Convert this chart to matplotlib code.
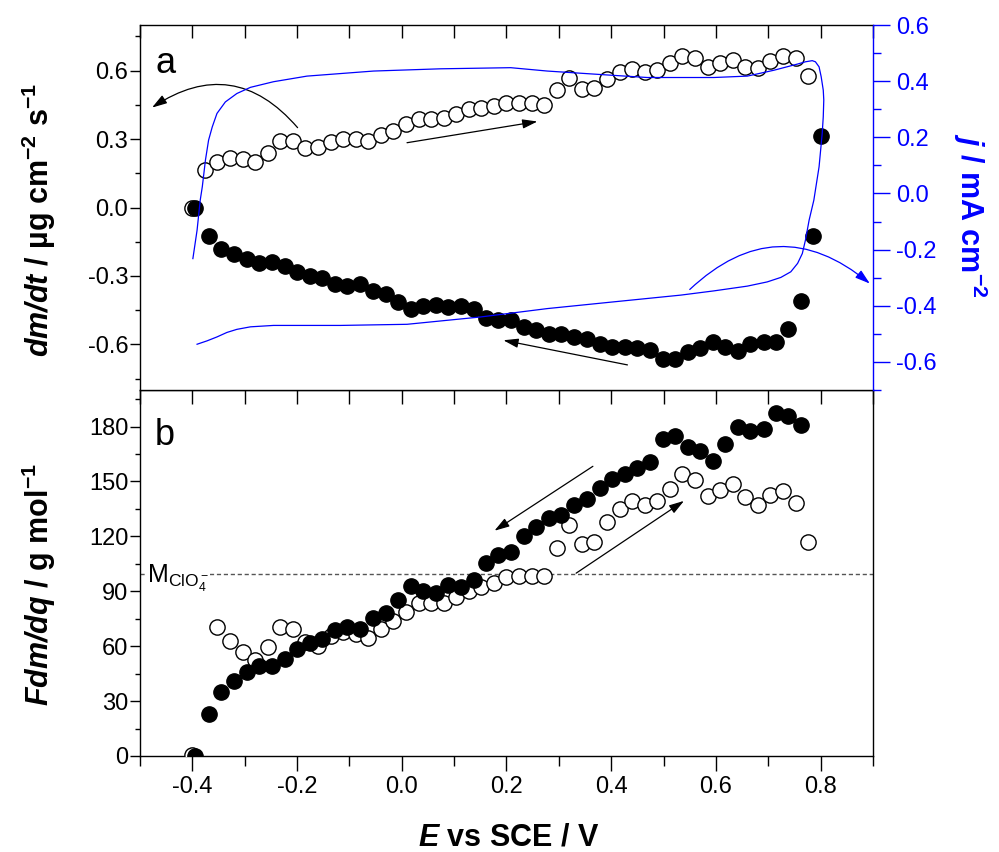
import matplotlib
matplotlib.use("Agg")
import matplotlib.pyplot as plt
from matplotlib.ticker import MultipleLocator, FormatStrFormatter

plt.rcParams['font.family'] = ['Liberation Sans', 'DejaVu Sans']
plt.rcParams['mathtext.fontset'] = 'custom'
plt.rcParams['mathtext.rm'] = 'Liberation Sans:italic:bold'
plt.rcParams['mathtext.it'] = 'Liberation Sans:italic:bold'
plt.rcParams['mathtext.bf'] = 'Liberation Sans:bold'
plt.rcParams['axes.unicode_minus'] = False

# ---------------- data ----------------
# panel a, anodic scan (open circles): dm/dt
E_open_a = [-0.400, -0.376, -0.352, -0.328, -0.304, -0.280, -0.256, -0.232, -0.208, -0.184,
            -0.160, -0.136, -0.112, -0.088, -0.064, -0.040, -0.016, 0.008, 0.032, 0.056,
            0.080, 0.104, 0.128, 0.152, 0.176, 0.200, 0.224, 0.248, 0.272, 0.296,
            0.320, 0.344, 0.368, 0.392, 0.416, 0.440, 0.464, 0.488, 0.512, 0.536,
            0.560, 0.584, 0.608, 0.632, 0.656, 0.680, 0.704, 0.728, 0.752, 0.776]
dmdt_open = [0.000, 0.163, 0.198, 0.215, 0.211, 0.198, 0.237, 0.290, 0.290, 0.259,
             0.264, 0.286, 0.299, 0.299, 0.290, 0.316, 0.334, 0.365, 0.387, 0.387,
             0.391, 0.409, 0.431, 0.435, 0.444, 0.457, 0.456, 0.456, 0.448, 0.516,
             0.568, 0.519, 0.523, 0.563, 0.595, 0.607, 0.596, 0.604, 0.632, 0.665,
             0.654, 0.614, 0.632, 0.646, 0.617, 0.610, 0.642, 0.665, 0.655, 0.575]

# panel a, cathodic scan (filled circles): dm/dt
E_fill_a = [-0.395, -0.368, -0.345, -0.320, -0.296, -0.272, -0.248, -0.224, -0.201, -0.176,
            -0.152, -0.127, -0.104, -0.080, -0.055, -0.031, -0.007, 0.017, 0.041, 0.065,
            0.089, 0.114, 0.137, 0.161, 0.184, 0.208, 0.233, 0.257, 0.281, 0.305,
            0.329, 0.354, 0.378, 0.402, 0.426, 0.450, 0.474, 0.498, 0.522, 0.546,
            0.570, 0.594, 0.618, 0.642, 0.666, 0.691, 0.714, 0.738, 0.762, 0.785, 0.800]
dmdt_fill = [0.000, -0.123, -0.182, -0.202, -0.225, -0.243, -0.239, -0.258, -0.284, -0.299,
             -0.311, -0.334, -0.343, -0.337, -0.368, -0.380, -0.415, -0.445, -0.431, -0.428,
             -0.438, -0.431, -0.445, -0.485, -0.492, -0.495, -0.524, -0.539, -0.555, -0.554,
             -0.568, -0.577, -0.599, -0.610, -0.612, -0.617, -0.624, -0.665, -0.665, -0.633,
             -0.614, -0.588, -0.610, -0.627, -0.599, -0.588, -0.588, -0.532, -0.412, -0.123, 0.313]

# panel a, cyclic voltammogram (blue, right axis)
E_cv = [-0.399, -0.391, -0.385, -0.381, -0.375, -0.369, -0.362, -0.353, -0.337, -0.315,
        -0.289, -0.245, -0.181, -0.054, 0.074, 0.208, 0.278, 0.393, 0.469, 0.596,
        0.660, 0.711, 0.756, 0.771, 0.784, 0.790, 0.797, 0.801, 0.805, 0.806,
        0.805, 0.803, 0.797, 0.787, 0.778, 0.771, 0.765, 0.756, 0.743, 0.724,
        0.698, 0.660, 0.596, 0.533, 0.405, 0.278, 0.150, 0.010, -0.117, -0.245,
        -0.289, -0.315, -0.334, -0.353, -0.372, -0.391]
j_cv = [-0.232, -0.131, -0.024, 0.024, 0.119, 0.190, 0.237, 0.285, 0.326, 0.356,
        0.378, 0.398, 0.418, 0.436, 0.444, 0.448, 0.436, 0.422, 0.413, 0.413,
        0.418, 0.439, 0.461, 0.469, 0.473, 0.469, 0.451, 0.416, 0.368, 0.333,
        0.273, 0.214, 0.095, -0.024, -0.095, -0.166, -0.214, -0.249, -0.279, -0.299,
        -0.315, -0.330, -0.347, -0.362, -0.386, -0.410, -0.440, -0.466, -0.470, -0.470,
        -0.475, -0.484, -0.495, -0.511, -0.525, -0.537]

# panel b, anodic scan (open circles): F dm/dq
E_open_b = [-0.400, -0.352, -0.328, -0.304, -0.280, -0.256, -0.232, -0.208, -0.184, -0.160,
            -0.136, -0.112, -0.088, -0.064, -0.040, -0.016, 0.008, 0.032, 0.056, 0.080,
            0.104, 0.128, 0.152, 0.176, 0.200, 0.224, 0.248, 0.272, 0.296, 0.320,
            0.344, 0.368, 0.392, 0.416, 0.440, 0.464, 0.488, 0.512, 0.536, 0.560,
            0.584, 0.608, 0.632, 0.656, 0.680, 0.704, 0.728, 0.752, 0.776]
Fdmdq_open = [0.5, 70.7, 63.1, 56.7, 52.5, 59.5, 70.7, 69.5, 62.5, 60.2,
              65.3, 67.5, 66.7, 64.4, 69.3, 73.5, 78.9, 83.5, 83.5, 83.5,
              86.8, 90.4, 92.6, 94.5, 97.8, 98.6, 98.6, 98.6, 113.6, 126.0,
              116.0, 117.2, 127.6, 134.9, 139.1, 137.3, 139.5, 145.9, 154.1, 151.0,
              142.2, 145.5, 148.6, 141.5, 137.3, 142.8, 145.0, 138.2, 116.7]

# panel b, cathodic scan (filled circles): F dm/dq
E_fill_b = [-0.395, -0.368, -0.345, -0.320, -0.296, -0.272, -0.248, -0.224, -0.201, -0.176,
            -0.152, -0.127, -0.104, -0.080, -0.055, -0.031, -0.007, 0.017, 0.041, 0.065,
            0.089, 0.114, 0.137, 0.161, 0.184, 0.208, 0.233, 0.257, 0.281, 0.305,
            0.329, 0.354, 0.378, 0.402, 0.426, 0.450, 0.474, 0.498, 0.522, 0.546,
            0.570, 0.594, 0.618, 0.642, 0.666, 0.691, 0.714, 0.738, 0.762]
Fdmdq_fill = [0.0, 23.0, 34.8, 41.0, 46.1, 49.4, 49.4, 53.1, 58.4, 61.7,
              63.8, 68.9, 70.4, 69.3, 75.3, 78.1, 85.3, 93.0, 90.4, 89.3,
              93.5, 92.3, 96.3, 105.7, 109.6, 111.4, 120.0, 124.9, 130.0, 131.8,
              137.3, 140.4, 146.4, 151.4, 154.1, 157.4, 160.4, 173.2, 175.1, 168.9,
              166.8, 161.4, 170.5, 179.6, 177.4, 178.9, 187.5, 186.0, 181.1]

M_ClO4 = 99.45

# ---------------- figure ----------------
fig = plt.figure(figsize=(9.99, 8.52), dpi=100)
L, W = 0.14014, 0.73373
ax2 = fig.add_axes([L, 0.11268, W, 0.42958])
ax1 = fig.add_axes([L, 0.54225, W, 0.42840])
ax1r = ax1.twinx()
ax2.patch.set_alpha(0)

blue = '#0000FF'
ms = 11
mew = 1.0

# panel a
ax1.plot(E_open_a, dmdt_open, 'o', ms=ms, mfc='white', mec='black', mew=mew, ls='none', zorder=3)
ax1.plot(E_fill_a, dmdt_fill, 'o', ms=ms, mfc='black', mec='black', mew=mew, ls='none', zorder=4)
ax1r.plot(E_cv, j_cv, '-', color=blue, lw=0.9, solid_joinstyle='round')

ax1.set_xlim(-0.5, 0.9)
ax1.set_ylim(-0.8, 0.8)
ax1r.set_ylim(-0.7, 0.6)

ax1.xaxis.set_major_locator(MultipleLocator(0.1))
ax1.xaxis.set_minor_locator(MultipleLocator(0.1))
ax1.tick_params(axis='x', which='both', bottom=True, top=False, direction='out',
                length=10, width=1, labelbottom=False)
ax1r.xaxis.set_visible(True)
ax1r.tick_params(axis='x', which='both', bottom=False, top=True, direction='in',
                 length=9, width=1, labelbottom=False, labeltop=False)

ax1.yaxis.set_major_locator(MultipleLocator(0.3))
ax1.yaxis.set_minor_locator(MultipleLocator(0.15))
ax1.yaxis.set_major_formatter(FormatStrFormatter('%.1f'))
ax1.tick_params(axis='y', which='major', left=True, right=False, direction='out',
                length=7, width=1, pad=1.5, labelsize=17)
ax1.tick_params(axis='y', which='minor', left=True, right=False, direction='out',
                length=3.5, width=1)

ax1r.yaxis.set_major_locator(MultipleLocator(0.2))
ax1r.yaxis.set_minor_locator(MultipleLocator(0.1))
ax1r.yaxis.set_major_formatter(FormatStrFormatter('%.1f'))
ax1r.tick_params(axis='y', which='major', direction='out', length=12, width=1,
                 color=blue, labelcolor=blue, labelsize=17, pad=4.3)
ax1r.tick_params(axis='y', which='minor', direction='out', length=6, width=1, color=blue)
for s in ['left', 'top', 'bottom']:
    ax1r.spines[s].set_visible(False)
ax1r.spines['right'].set_color(blue)
ax1.spines['right'].set_visible(False)

for sp in list(ax1.spines.values()) + list(ax2.spines.values()) + [ax1r.spines['right']]:
    sp.set_linewidth(1.0)

ax1.text(0.0205, 0.868, 'a', transform=ax1.transAxes, fontsize=26, ha='left', va='baseline')

arrow_k = dict(arrowstyle='-|>,head_length=0.9,head_width=0.28', mutation_scale=10,
               color='black', lw=0.9, shrinkA=0, shrinkB=0)
ax1.annotate('', xy=(-0.477, 0.438), xytext=(-0.199, 0.350),
             arrowprops=dict(arrow_k, connectionstyle='arc3,rad=0.44'))
ax1.annotate('', xy=(0.259, 0.377), xytext=(0.010, 0.284), arrowprops=arrow_k)
ax1.annotate('', xy=(0.194, -0.582), xytext=(0.431, -0.690), arrowprops=arrow_k)
arrow_b = dict(arrow_k, color=blue)
ax1r.annotate('', xy=(0.894, -0.321), xytext=(0.550, -0.342),
              arrowprops=dict(arrow_b, connectionstyle='arc3,rad=-0.44'))

# panel b
ax2.plot(E_open_b, Fdmdq_open, 'o', ms=ms, mfc='white', mec='black', mew=mew, ls='none', zorder=3)
ax2.plot(E_fill_b, Fdmdq_fill, 'o', ms=ms, mfc='black', mec='black', mew=mew, ls='none', zorder=4)
ax2.axhline(M_ClO4, color='#555555', lw=1.0, ls=(0, (3, 2)), zorder=1)
ax2.text(-0.486, 94.6, r'$\mathregular{M_{ClO_4^-}}$', fontsize=18, ha='left', va='baseline',
         bbox=dict(facecolor='white', edgecolor='none', pad=0.5), zorder=2)

ax2.set_xlim(-0.5, 0.9)
ax2.set_ylim(0, 200)
ax2.xaxis.set_major_locator(MultipleLocator(0.2))
ax2.xaxis.set_minor_locator(MultipleLocator(0.1))
ax2.xaxis.set_major_formatter(FormatStrFormatter('%.1f'))
ax2.tick_params(axis='x', which='major', bottom=True, top=False, direction='out',
                length=11, width=1, pad=3.5, labelsize=17)
ax2.tick_params(axis='x', which='minor', bottom=True, top=False, direction='out',
                length=7, width=1)
ax2.yaxis.set_major_locator(MultipleLocator(30))
ax2.yaxis.set_minor_locator(MultipleLocator(15))
ax2.yaxis.set_major_formatter(FormatStrFormatter('%d'))
ax2.tick_params(axis='y', which='major', left=True, right=False, direction='out',
                length=7, width=1, pad=1.5, labelsize=17)
ax2.tick_params(axis='y', which='minor', left=True, right=False, direction='out',
                length=3.5, width=1)

ax2.text(0.0205, 0.850, 'b', transform=ax2.transAxes, fontsize=26, ha='left', va='baseline')

ax2.annotate('', xy=(0.177, 123.1), xytext=(0.365, 158.3), arrowprops=arrow_k)
ax2.annotate('', xy=(0.539, 139.4), xytext=(0.333, 99.9), arrowprops=arrow_k)

# axis labels
fig.text(0.0385, 0.7418, r'$dm/dt$ / µg cm$\mathregular{^{-2}}$ s$\mathregular{^{-1}}$',
         rotation=90, fontsize=22, fontweight='bold', ha='center', va='center')
fig.text(0.0385, 0.3134, r'$Fdm/dq$ / g mol$\mathregular{^{-1}}$',
         rotation=90, fontsize=22, fontweight='bold', ha='center', va='center')
fig.text(0.971, 0.7477, r'$j$ / mA cm$\mathregular{^{-2}}$', color=blue,
         rotation=270, fontsize=22, fontweight='bold', ha='center', va='center')
fig.text(0.5095, 0.0176, r'$E$ vs SCE / V', fontsize=22, fontweight='bold',
         ha='center', va='center')

fig.savefig('out.png', dpi=100)
